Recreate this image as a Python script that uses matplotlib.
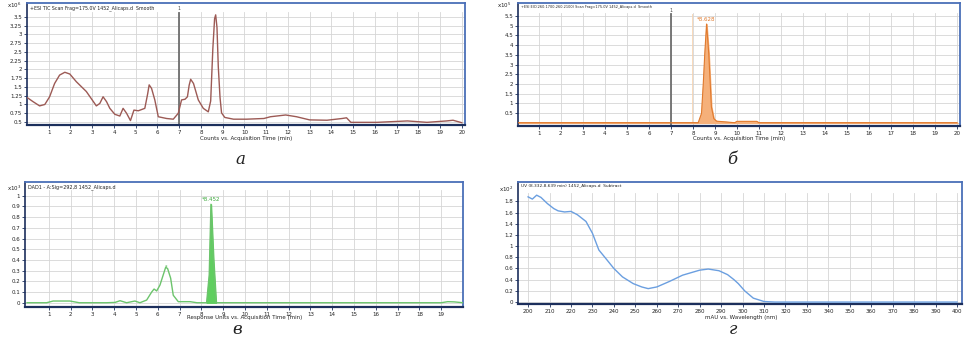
import numpy as np
import matplotlib
matplotlib.use("Agg")
import matplotlib.pyplot as plt

# ---------------- data ----------------
# (а) TIC chromatogram
tic_time = [0.0, 0.05, 0.28, 0.58, 0.82, 1.04, 1.27, 1.5, 1.74, 1.97, 2.27, 2.73, 3.19, 3.35, 3.5,
            3.66, 3.81, 4.04, 4.27, 4.42, 4.58, 4.76, 4.92, 5.12, 5.42, 5.55, 5.62, 5.73, 5.88, 6.04,
            6.42, 6.73, 6.96, 7.11, 7.27, 7.38, 7.46, 7.53, 7.66, 7.88, 8.11, 8.34, 8.45, 8.55, 8.63,
            8.68, 8.74, 8.8, 8.88, 8.95, 9.1, 9.5, 10.1, 10.9, 11.2, 11.9, 12.4, 13.0, 13.8, 14.5,
            14.7, 14.9, 16.1, 17.5, 18.4, 19.3, 19.6, 20.0]
tic_val = [1.2, 1.18, 1.08, 0.96, 1.0, 1.22, 1.6, 1.84, 1.92, 1.87, 1.65, 1.37, 0.96, 1.03, 1.22,
           1.08, 0.89, 0.72, 0.67, 0.89, 0.75, 0.54, 0.84, 0.82, 0.89, 1.3, 1.56, 1.46, 1.13, 0.65,
           0.6, 0.58, 0.75, 1.13, 1.15, 1.22, 1.55, 1.72, 1.6, 1.13, 0.89, 0.79, 1.1, 2.6, 3.45,
           3.56, 3.2, 2.08, 1.2, 0.76, 0.63, 0.58, 0.58, 0.6, 0.65, 0.7, 0.65, 0.56, 0.55, 0.6,
           0.62, 0.49, 0.49, 0.53, 0.49, 0.53, 0.55, 0.48]

# (б) EIC chromatogram
eic_time = [0.0, 8.24, 8.39, 8.47, 8.54, 8.62, 8.72, 8.84, 8.95, 9.07, 9.5, 9.9, 10.0, 10.9, 11.0, 20.0]
eic_val = [0.0, 0.0, 0.48, 2.0, 3.58, 5.09, 3.58, 0.82, 0.21, 0.08, 0.04, 0.0, 0.07, 0.07, 0.0, 0.0]

# (в) DAD signal
dad_time = [0.0, 0.9, 1.2, 1.97, 2.4, 3.65, 4.04, 4.27, 4.57, 4.95, 5.18, 5.49, 5.72, 5.83, 5.95,
            6.1, 6.25, 6.36, 6.45, 6.59, 6.71, 6.94, 7.48, 7.8, 8.24, 8.36, 8.44, 8.55, 8.67, 19.0,
            19.3, 19.6, 20.0]
dad_val = [0.0, 0.0, 0.016, 0.016, 0.0, 0.0, 0.003, 0.019, 0.0, 0.016, 0.0, 0.025, 0.1, 0.128, 0.11,
           0.165, 0.26, 0.33, 0.32, 0.23, 0.07, 0.01, 0.01, 0.0, 0.0, 0.26, 0.92, 0.41, 0.0, 0.0,
           0.01, 0.008, 0.0]

# (г) UV spectrum
uv_nm = [200, 202, 204, 206, 209, 212, 214, 217, 220, 223, 227, 230, 233, 236, 240, 244, 249, 253,
         256, 260, 266, 272, 280, 284, 289, 293, 296, 298, 301, 305, 310, 315, 330, 400]
uv_val = [1.88, 1.84, 1.91, 1.87, 1.76, 1.67, 1.63, 1.61, 1.62, 1.56, 1.44, 1.23, 0.93, 0.79, 0.6,
          0.45, 0.33, 0.27, 0.24, 0.27, 0.37, 0.48, 0.57, 0.59, 0.56, 0.49, 0.4, 0.33, 0.2, 0.07,
          0.01, 0.0, 0.0, 0.0]

# tick labels
tic_yticks = [0.5, 0.75, 1, 1.25, 1.5, 1.75, 2, 2.25, 2.5, 2.75, 3, 3.25, 3.5]
eic_yticks = [0.5, 1, 1.5, 2, 2.5, 3, 3.5, 4, 4.5, 5, 5.5]
dad_yticks = [0, 0.1, 0.2, 0.3, 0.4, 0.5, 0.6, 0.7, 0.8, 0.9, 1]
uv_yticks = [0, 0.2, 0.4, 0.6, 0.8, 1, 1.2, 1.4, 1.6, 1.8]
time_ticks20 = list(range(1, 21))
time_ticks19 = list(range(1, 20))
nm_ticks = list(range(200, 401, 10))

# ---------------- figure ----------------
W, H = 969, 342
fig = plt.figure(figsize=(W / 100, H / 100), dpi=100)
fig.patch.set_facecolor("white")

FS = 4.0
GRID = "#d6d6d6"
FRAME = "#4a6fb8"
AXIS = "#1c2f5c"


def rect(l, r, t, b):
    return [l / W, 1 - b / H, (r - l) / W, (b - t) / H]


def ftext(x, y, s, **kw):
    fig.text(x / W, 1 - y / H, s, **kw)


def panel(box, xlim, ylim, gridtop, xticks, yticks, header, hfs, xlabel, exp, exp_xy,
          xlabel_xy, letter, letter_xy):
    ax = fig.add_axes(rect(*box))
    ax.set_xlim(*xlim)
    ax.set_ylim(*ylim)
    for x in xticks:
        ax.plot([x, x], [ylim[0], gridtop], color=GRID, lw=0.6, zorder=0)
    for y in yticks:
        ax.axhline(y, color=GRID, lw=0.6, zorder=0)
    ax.set_xticks(xticks)
    ax.set_xticklabels([str(v) for v in xticks], fontsize=FS, color="#222222")
    ax.set_yticks(yticks)
    ax.set_yticklabels([f"{v:g}" for v in yticks], fontsize=FS, color="#222222")
    ax.tick_params(axis="both", length=2, width=0.6, pad=1.5, color=AXIS)
    for s in ("top", "right"):
        ax.spines[s].set_color(FRAME)
        ax.spines[s].set_linewidth(1.3)
    ax.spines["bottom"].set_color(AXIS)
    ax.spines["bottom"].set_linewidth(1.6)
    ax.spines["left"].set_color(AXIS)
    ax.spines["left"].set_linewidth(1.2)
    ax.text(0.006, 0.985, header, transform=ax.transAxes, fontsize=hfs, va="top",
            ha="left", color="#222222")
    ftext(*exp_xy, exp, fontsize=FS, va="center", ha="left", color="#222222")
    ftext(*xlabel_xy, xlabel, fontsize=FS, va="center", ha="center", color="#222222")
    ftext(*letter_xy, letter, fontsize=12, va="center", ha="center",
          family="DejaVu Serif", style="italic", color="#222222")
    return ax


# (а)
ax1 = panel((27, 465, 3.3, 125), (0, 20.15), (0.414, 3.89), 3.64, time_ticks20, tic_yticks,
            "+ESI TIC Scan Frag=175.0V 1452_Alicaps.d  Smooth", 3.4,
            "Counts vs. Acquisition Time (min)", r"x10$^{6}$", (7, 5),
            (246, 138.5), "а", (240, 160))
ax1.plot(tic_time, tic_val, color="#9c5a55", lw=1.0, zorder=3)
ax1.plot([7, 7], [0.414, 3.62], color="#6e6e6e", lw=1.3, zorder=2)
ax1.text(7, 3.66, "1", fontsize=3.3, ha="center", va="bottom", color="#444444")

# (б)
ax2 = panel((518, 960, 2.7, 126), (0.05, 20.14), (-0.17, 6.19), 5.65, time_ticks20, eic_yticks,
            "+ESI EIC(260.1700-260.2100) Scan Frag=175.0V 1452_Alicaps.d  Smooth", 2.5,
            "Counts vs. Acquisition Time (min)", r"x10$^{5}$", (497, 5),
            (739, 138.5), "б", (732, 160))
ax2.axhline(0, color="#f6c79a", lw=0.8, zorder=1)
ax2.plot([7.97, 7.97], [0, 5.6], color="#f8d3b0", lw=0.6, zorder=1)
ax2.fill_between(eic_time, eic_val, 0, color="#f5b07a", zorder=2)
ax2.plot(eic_time, eic_val, color="#e07a2e", lw=0.8, zorder=3)
ax2.plot([7, 7], [-0.17, 5.62], color="#6e6e6e", lw=1.3, zorder=2)
ax2.text(7, 5.66, "1", fontsize=3.3, ha="center", va="bottom", color="#444444")
pk = int(np.argmax(eic_val))
ax2.text(eic_time[pk], eic_val[pk] + 0.12, f"*{eic_time[pk] + 0.008:.3f}", fontsize=FS,
         ha="center", va="bottom", color="#e07a2e")

# (в)
ax3 = panel((25, 463, 182, 306.7), (-0.09, 20.0), (-0.037, 1.128), 1.05, time_ticks19, dad_yticks,
            "DAD1 - A:Sig=292,8 1452_Alicaps.d", 3.5,
            "Response Units vs. Acquisition Time (min)", r"x10$^{3}$", (7, 188),
            (245, 318), "в", (237, 329))
ax3.plot(dad_time, dad_val, color="#6cc46c", lw=1.0, zorder=3)
pk3 = int(np.argmax(dad_val))
ax3.fill_between(dad_time[pk3 - 2:pk3 + 3], dad_val[pk3 - 2:pk3 + 3], 0, color="#5fcf5f", zorder=2)
ax3.text(dad_time[pk3], dad_val[pk3] + 0.02, f"*{dad_time[pk3] + 0.012:.3f}", fontsize=FS,
         ha="center", va="bottom", color="#3aa83a")
ax3.text(6.36, 0.335, "*", fontsize=3.5, ha="center", va="center", color="#3aa83a")

# (г)
ax4 = panel((518, 962, 182.3, 304.3), (195.3, 402.3), (-0.04, 2.14), 1.95, nm_ticks, uv_yticks,
            "UV (8.332-8.639 min) 1452_Alicaps.d  Subtract", 3.1,
            "mAU vs. Wavelength (nm)", r"x10$^{2}$", (499, 189),
            (741, 317), "г", (733, 329))
ax4.plot(uv_nm, uv_val, color="#6b9fe0", lw=1.0, zorder=3)

fig.savefig("out.png", dpi=100, facecolor="white")
